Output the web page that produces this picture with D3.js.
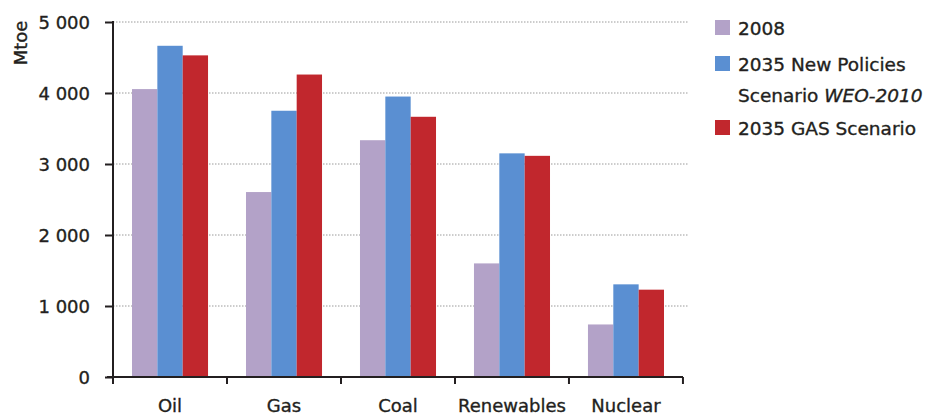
<!DOCTYPE html>
<html>
<head>
<meta charset="utf-8">
<script src="https://cdn.jsdelivr.net/npm/d3@7/dist/d3.min.js"></script>
<style>
  html, body { margin: 0; padding: 0; background: #fff; }
  svg { display: block; }
  text { font-family: "DejaVu Sans", Verdana, sans-serif; fill: #231f20; stroke: #231f20; stroke-width: 0.35px; }
</style>
</head>
<body>
<svg id="chart" width="930" height="416"></svg>
<script>
// Primary energy demand by fuel (Mtoe)
const categories = ["Oil", "Gas", "Coal", "Renewables", "Nuclear"];
const seriesNames = ["2008", "2035 New Policies Scenario WEO-2010", "2035 GAS Scenario"];
const values2008 = [4055, 2605, 3335, 1600, 740];
const valuesNewPolicies = [4665, 3750, 3950, 3150, 1305];
const valuesGas = [4530, 4260, 3665, 3115, 1230];
const yTicks = [0, 1000, 2000, 3000, 4000, 5000];
const colors = ["#b3a2c8", "#5a8fd2", "#c1272d"];

const seriesValues = [values2008, valuesNewPolicies, valuesGas];
const rows = categories.map((c, i) => ({
  category: c,
  vals: seriesValues.map((s, k) => ({ key: k, value: s[i] }))
}));

const svg = d3.select("#chart");
const plotLeft = 113, plotRight = 683, plotTop = 22, plotBottom = 377;

const x0 = d3.scaleBand().domain(categories).range([plotLeft, plotRight])
  .paddingInner(0.333).paddingOuter(0.1667);
const x1 = d3.scaleBand().domain(d3.range(seriesNames.length)).range([0, x0.bandwidth()]);
const y = d3.scaleLinear().domain([0, 5000]).range([plotBottom, plotTop]);

// dotted gridlines
svg.append("g")
  .selectAll("line")
  .data(yTicks.filter(d => d > 0))
  .join("line")
  .attr("x1", plotLeft).attr("x2", 688)
  .attr("y1", d => y(d)).attr("y2", d => y(d))
  .attr("stroke", "#9a9a9a")
  .attr("stroke-width", 1)
  .attr("stroke-dasharray", "1.5,1.5");

// bars
svg.append("g")
  .selectAll("g")
  .data(rows)
  .join("g")
  .attr("transform", d => `translate(${x0(d.category)},0)`)
  .selectAll("rect")
  .data(d => d.vals)
  .join("rect")
  .attr("x", d => x1(d.key))
  .attr("width", x1.bandwidth())
  .attr("y", d => y(d.value))
  .attr("height", d => y(0) - y(d.value))
  .attr("fill", d => colors[d.key]);

// y axis
const yAxis = d3.axisLeft(y).tickValues(yTicks).tickSize(8).tickPadding(15)
  .tickFormat(d => d3.format(",")(d).replace(/,/g, " "));
const yg = svg.append("g").attr("transform", `translate(${plotLeft},0)`).call(yAxis);
yg.select(".domain").remove();
yg.selectAll(".tick line").attr("stroke", "#231f20").attr("stroke-width", 2);
yg.selectAll(".tick text").attr("font-size", 18).attr("fill", "#231f20").attr("dy", "0.36em");
svg.append("line")
  .attr("x1", plotLeft).attr("x2", plotLeft).attr("y1", plotTop - 1).attr("y2", plotBottom + 7)
  .attr("stroke", "#231f20").attr("stroke-width", 2);

// x axis with ticks between categories
const boundaries = d3.range(categories.length + 1).map(i => plotLeft + i * x0.step());
svg.append("line")
  .attr("x1", plotLeft - 6).attr("x2", plotRight).attr("y1", plotBottom).attr("y2", plotBottom)
  .attr("stroke", "#231f20").attr("stroke-width", 2);
svg.append("g").selectAll("line")
  .data(boundaries.slice(1))
  .join("line")
  .attr("x1", d => d).attr("x2", d => d)
  .attr("y1", plotBottom).attr("y2", plotBottom + 7)
  .attr("stroke", "#231f20").attr("stroke-width", 2);

svg.append("g").selectAll("text")
  .data(categories)
  .join("text")
  .attr("x", d => x0(d) + x0.bandwidth() / 2)
  .attr("y", 412)
  .attr("text-anchor", "middle")
  .attr("font-size", 18)
  .text(d => d);

// axis title
svg.append("text")
  .attr("transform", "translate(27,43) rotate(-90)")
  .attr("text-anchor", "middle")
  .attr("font-size", 18)
  .text("Mtoe");

// legend
const legend = svg.append("g").attr("transform", "translate(715,0)");
const legendItems = [
  { key: 0, lines: [["2008"]], y: 35 },
  { key: 1, lines: [["2035 New Policies"], ["Scenario ", "WEO-2010"]], y: 71 },
  { key: 2, lines: [["2035 GAS Scenario"]], y: 135 }
];
legendItems.forEach(item => {
  legend.append("rect")
    .attr("x", 0).attr("y", item.y - 15)
    .attr("width", 15).attr("height", 15)
    .attr("fill", colors[item.key]);
  item.lines.forEach((parts, li) => {
    const t = legend.append("text")
      .attr("x", 23).attr("y", item.y + li * 31)
      .attr("font-size", 18.5);
    parts.forEach((p, pi) => {
      t.append("tspan").text(p).attr("font-style", pi === 1 ? "italic" : null);
    });
  });
});
</script>
</body>
</html>
